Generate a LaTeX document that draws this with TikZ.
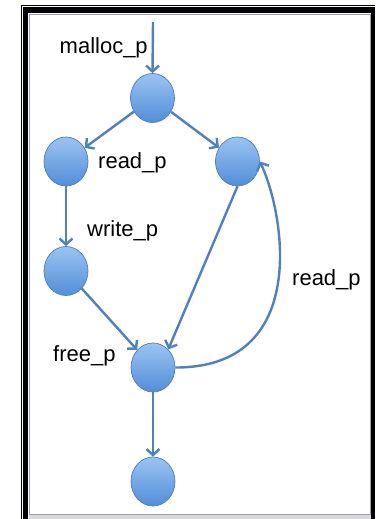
\documentclass[tikz,border=0pt]{standalone}
\usepackage{fontspec}
\setmainfont{Liberation Sans}
\usetikzlibrary{arrows.meta,shapes.geometric}

\definecolor{edgeblue}{RGB}{79,129,189}
\definecolor{ballrim}{RGB}{72,125,195}
\definecolor{balltop}{RGB}{155,195,243}
\definecolor{ballbot}{RGB}{82,142,214}
\definecolor{innerline}{RGB}{165,150,205}

\tikzset{
  state/.style={ellipse, minimum width=44pt, minimum height=49pt, inner sep=0pt,
    draw=ballrim, line width=0.7pt, top color=balltop, bottom color=ballbot},
  flow/.style={draw=edgeblue, line width=2.4pt,
    -{Straight Barb[length=6pt,width=13pt]}},
  lbl/.style={anchor=base west, inner sep=0pt, font=\fontsize{22}{26}\selectfont},
  band/.style={fill=black},
}

\begin{document}
\begin{tikzpicture}[x=1pt, y=-1pt]
  \useasboundingbox (0,0) rectangle (375,519);
  \fill[white] (0,0) rectangle (375,519);
  % thin outer rule
  \fill[band] (21,5) rectangle (375,6);
  \fill[band] (21,5) rectangle (22,519);
  % heavy frame bands
  \fill[band] (23.2,7.3) rectangle (375,12.7);
  \fill[band] (23.2,7.3) rectangle (28.4,519);
  \fill[band] (371,7.3) rectangle (375,519);
  % inner rule and strip below it
  \fill[black!15] (29,514) rectangle (371,519);
  \draw[innerline, line width=1pt] (29.5,14.5) rectangle (370.5,514);

  % states
  \node[state] (top)   at (152.5,98)  {};
  \node[state] (left)  at (66,161.5)  {};
  \node[state] (right) at (237.5,161.5) {};
  \node[state] (write) at (66,271)    {};
  \node[state] (free)  at (153,367.5) {};
  \node[state] (done)  at (153,481.5) {};
  \coordinate (entry) at (153,22);

  % transitions
  \draw[flow] (entry) -- (top.north);
  \draw[flow] (top) -- (left);
  \draw[flow] (top) -- (right);
  \draw[flow] (left.south) -- (write.north);
  \draw[flow] (write) -- (free);
  \draw[flow] (right.south) -- (free.50);
  \draw[flow] (free.south) -- (done.north);
  \draw[flow] (free.east) .. controls (310,368) and (285,215) .. (right.east);

  % labels
  \node[lbl] (lmalloc) at (59.5,53) {malloc\_p};
  \node[lbl] (lread1)  at (98,168)  {read\_p};
  \node[lbl] (lwrite)  at (87,236)  {write\_p};
  \node[lbl] (lread2)  at (292,285) {read\_p};
  \node[lbl] (lfree)   at (53,361)  {free\_p};
\end{tikzpicture}
\end{document}
